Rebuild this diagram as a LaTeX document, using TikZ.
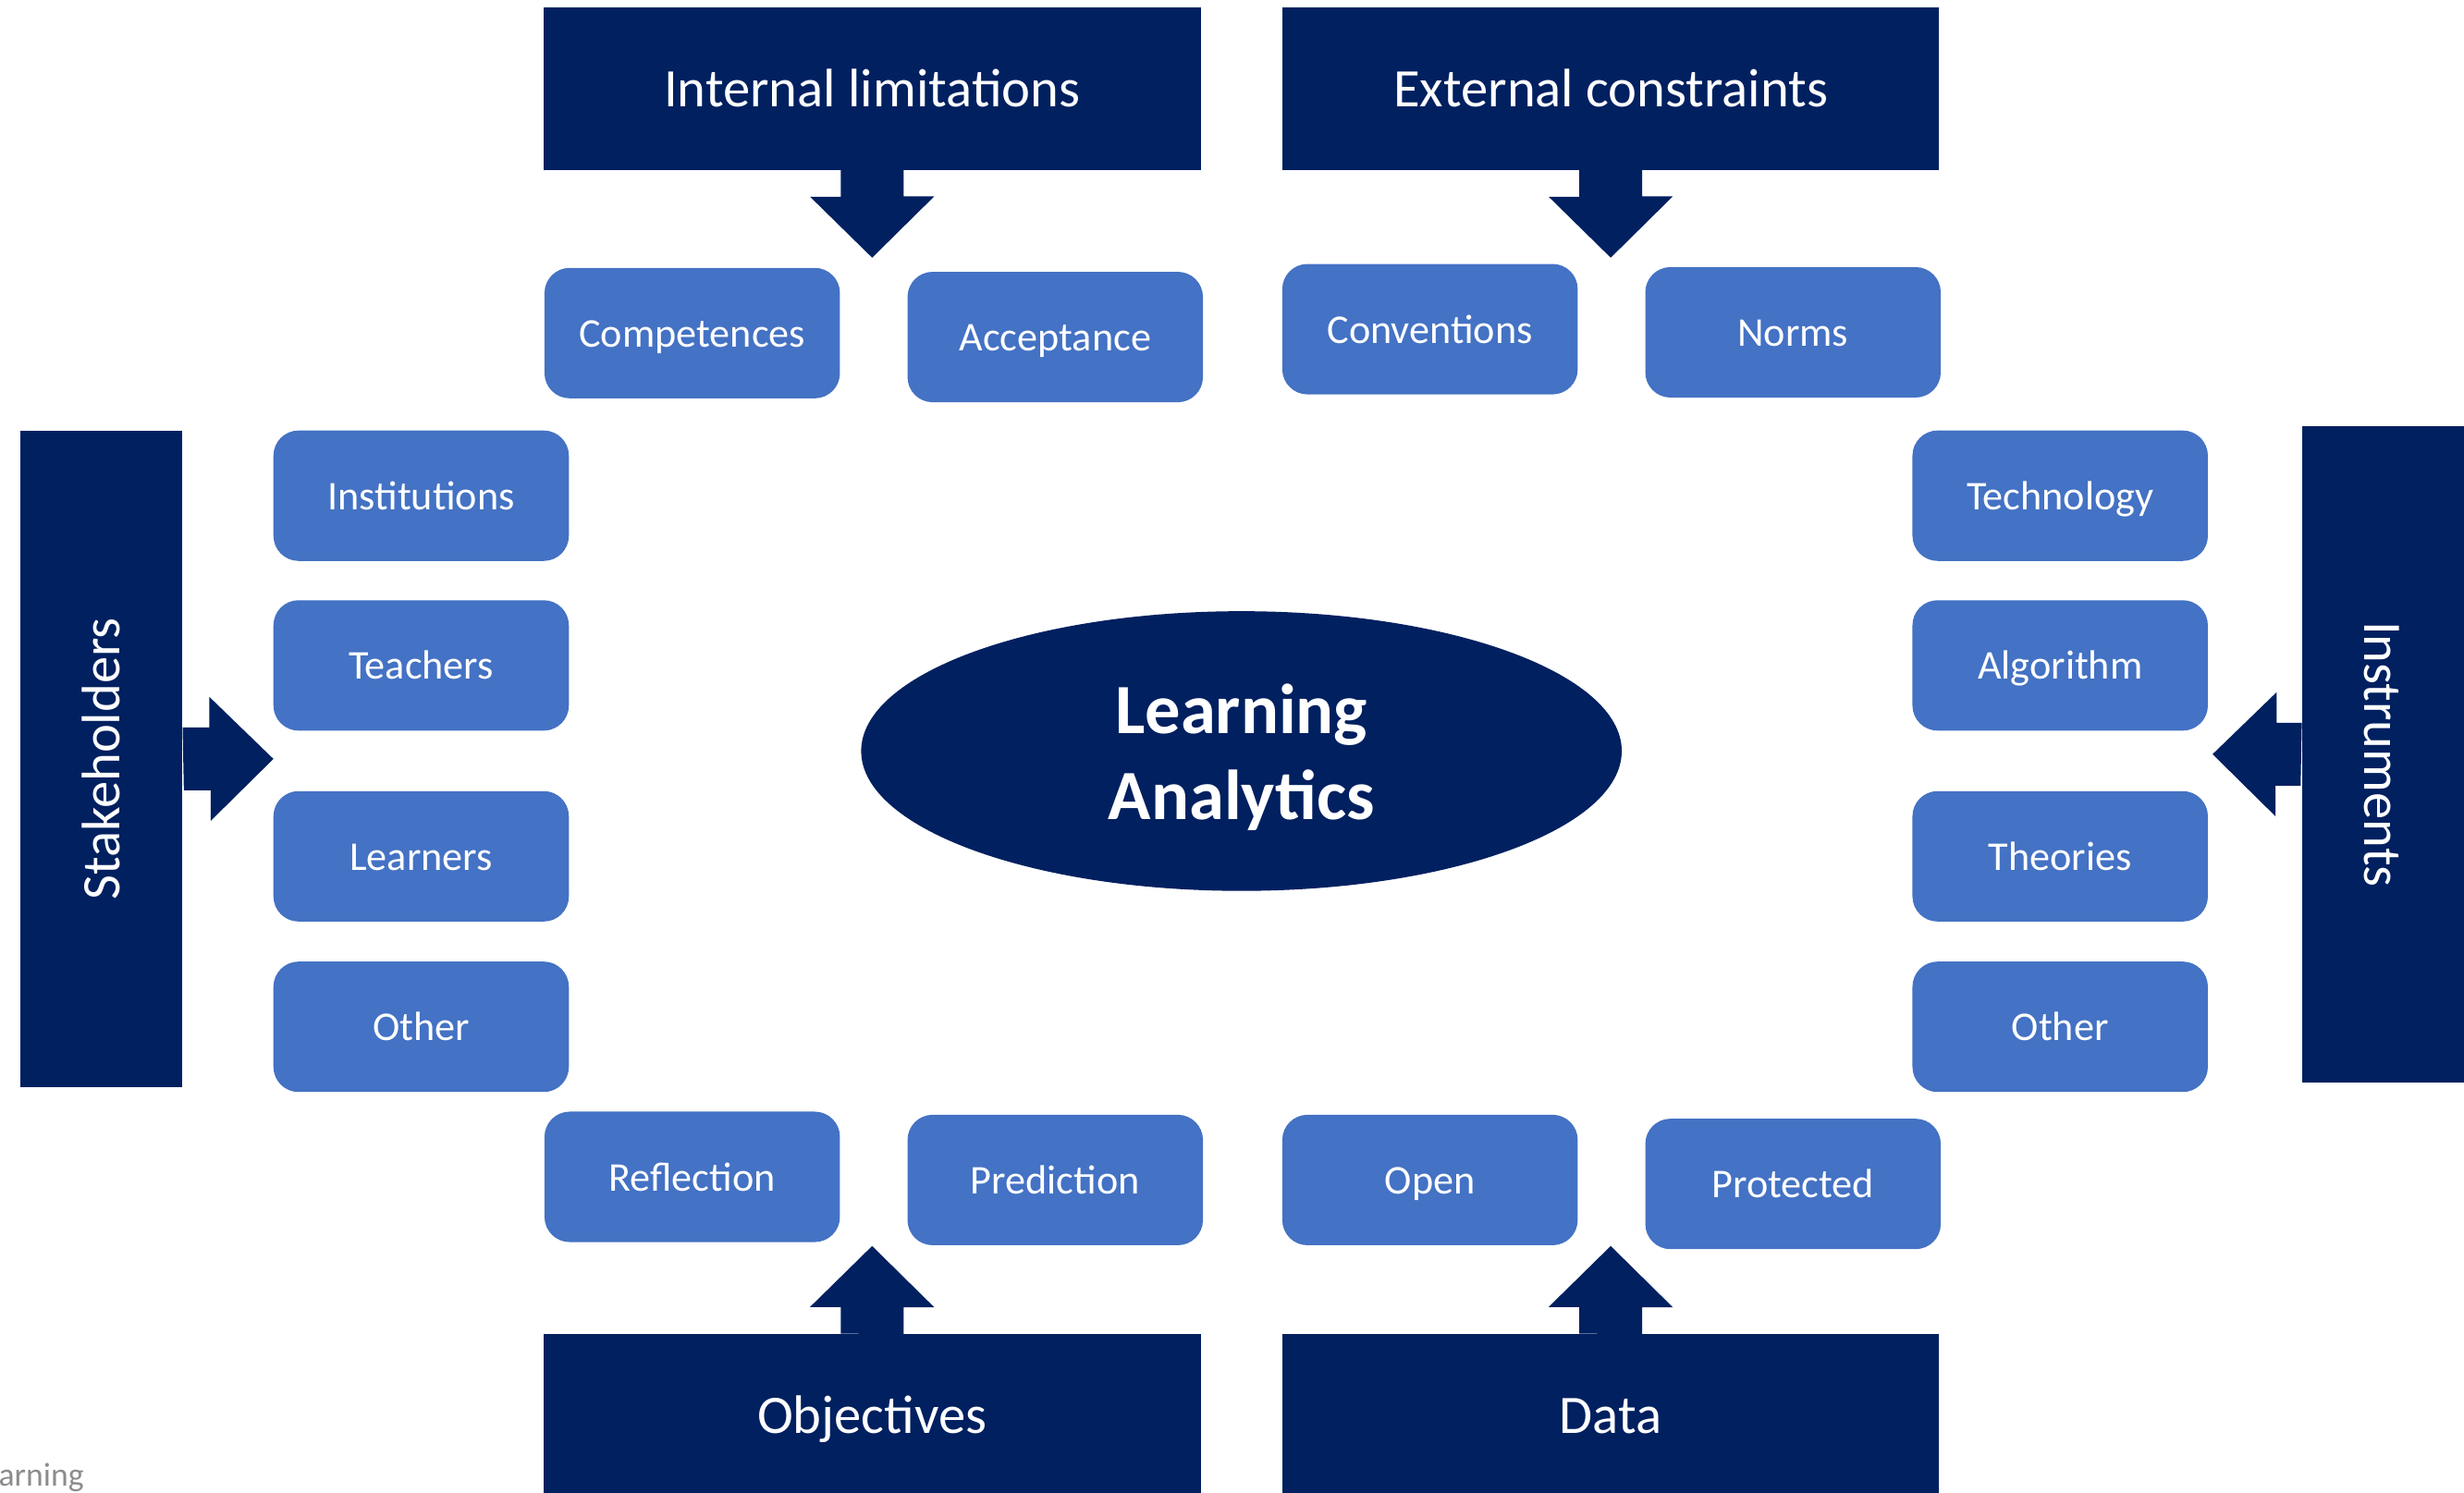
\documentclass[tikz,border=0pt]{standalone}
\usepackage{fontspec}
\setmainfont{Carlito}
\usepackage{xcolor}
\usetikzlibrary{shapes.geometric}

\definecolor{la_navy}{HTML}{002060}
\definecolor{la_blue}{HTML}{4472C4}

\begin{document}
\begin{tikzpicture}[x=1pt,y=-1pt,
    head_node/.style={rectangle,fill=la_navy,text=white,inner sep=0pt,minimum width=418pt,minimum height=103pt,text height=23.4pt,text depth=0pt,font=\fontsize{34.5}{41}\selectfont},
    item_node/.style={rectangle,rounded corners=16pt,fill=la_blue,text=white,inner sep=0pt,minimum width=188pt,minimum height=83pt,text height=17.8pt,text depth=0pt,font=\fontsize{26}{31}\selectfont},
    core_node/.style={ellipse,fill=la_navy,inner sep=0pt,minimum width=484pt,minimum height=178pt},
    core_text/.style={text=white,align=center,yshift=-4pt,font=\bfseries\fontsize{45}{55}\selectfont},
    block_arrow/.style={fill=la_navy}]

    \clip (0,0) rectangle (1568,950);

    \node[core_node, label={[core_text]center:Learning\\Analytics}] (la) at (790, 478) {};

    \node[head_node] (il) at (555, 56.5) {Internal limitations};
    \node[head_node] (ec) at (1025, 56.5) {External constraints};
    \node[head_node] (ob) at (555, 900.5) {Objectives};
    \node[head_node] (da) at (1025, 900.5) {Data};
    \node[head_node, rotate=90] (sh) at (64.5, 483) {Stakeholders};
    \node[head_node, rotate=-90] (in) at (1516.5, 480) {Instruments};

    \node[item_node] (comp) at (440.5, 212) {Competences};
    \node[item_node] (acc) at (671.5, 214.5) {Acceptance};
    \node[item_node] (conv) at (910, 209.5) {Conventions};
    \node[item_node] (norm) at (1141, 211.5) {Norms};

    \node[item_node] (inst) at (268, 315.5) {Institutions};
    \node[item_node] (teach) at (268, 423.5) {Teachers};
    \node[item_node] (learn) at (268, 545) {Learners};
    \node[item_node] (oth1) at (268, 653.5) {Other};

    \node[item_node] (tech) at (1311, 315.5) {Technology};
    \node[item_node] (algo) at (1311, 423.5) {Algorithm};
    \node[item_node] (theo) at (1311, 545) {Theories};
    \node[item_node] (oth2) at (1311, 653.5) {Other};

    \node[item_node] (refl) at (440.5, 749) {Reflection};
    \node[item_node] (pred) at (671.5, 751) {Prediction};
    \node[item_node] (open) at (910, 751) {Open};
    \node[item_node] (prot) at (1141, 753.5) {Protected};

    \coordinate (il_tip) at (555, 164);
    \coordinate (ec_tip) at (1025, 164);
    \coordinate (ob_tip) at (555, 793);
    \coordinate (da_tip) at (1025, 793);
    \coordinate (sh_tip) at (174, 483);
    \coordinate (in_tip) at (1408, 480);

    % block arrows
    \fill[block_arrow] ([xshift=-20pt]il.south) -- ++(0,17) -- ++(-19.5,0) -- (il_tip) -- ++(39.5,-39) -- ++(-19.5,0) -- ++(0,-17) -- cycle;
    \fill[block_arrow] ([xshift=-20pt]ec.south) -- ++(0,17) -- ++(-19.5,0) -- (ec_tip) -- ++(39.5,-39) -- ++(-19.5,0) -- ++(0,-17) -- cycle;
    \fill[block_arrow] ([xshift=-20pt]ob.north) -- ++(0,-17) -- ++(-19.5,0) -- (ob_tip) -- ++(39.5,39) -- ++(-19.5,0) -- ++(0,17) -- cycle;
    \fill[block_arrow] ([xshift=-20pt]da.north) -- ++(0,-17) -- ++(-19.5,0) -- (da_tip) -- ++(39.5,39) -- ++(-19.5,0) -- ++(0,17) -- cycle;
    \fill[block_arrow] ([yshift=20pt]sh.south) -- ++(17,0) -- ++(0,-19.5) -- (sh_tip) -- ++(-40,39.5) -- ++(0,-19.5) -- ++(-17,0) -- cycle;
    \fill[block_arrow] ([yshift=20pt]in.south) -- ++(-16,0) -- ++(0,-19.5) -- (in_tip) -- ++(40,39.5) -- ++(0,-19.5) -- ++(16,0) -- cycle;

    \node[anchor=base west, inner sep=0pt, text=gray!90, font=\fontsize{21}{25}\selectfont] (foot) at (-1, 946) {arning};
\end{tikzpicture}
\end{document}
